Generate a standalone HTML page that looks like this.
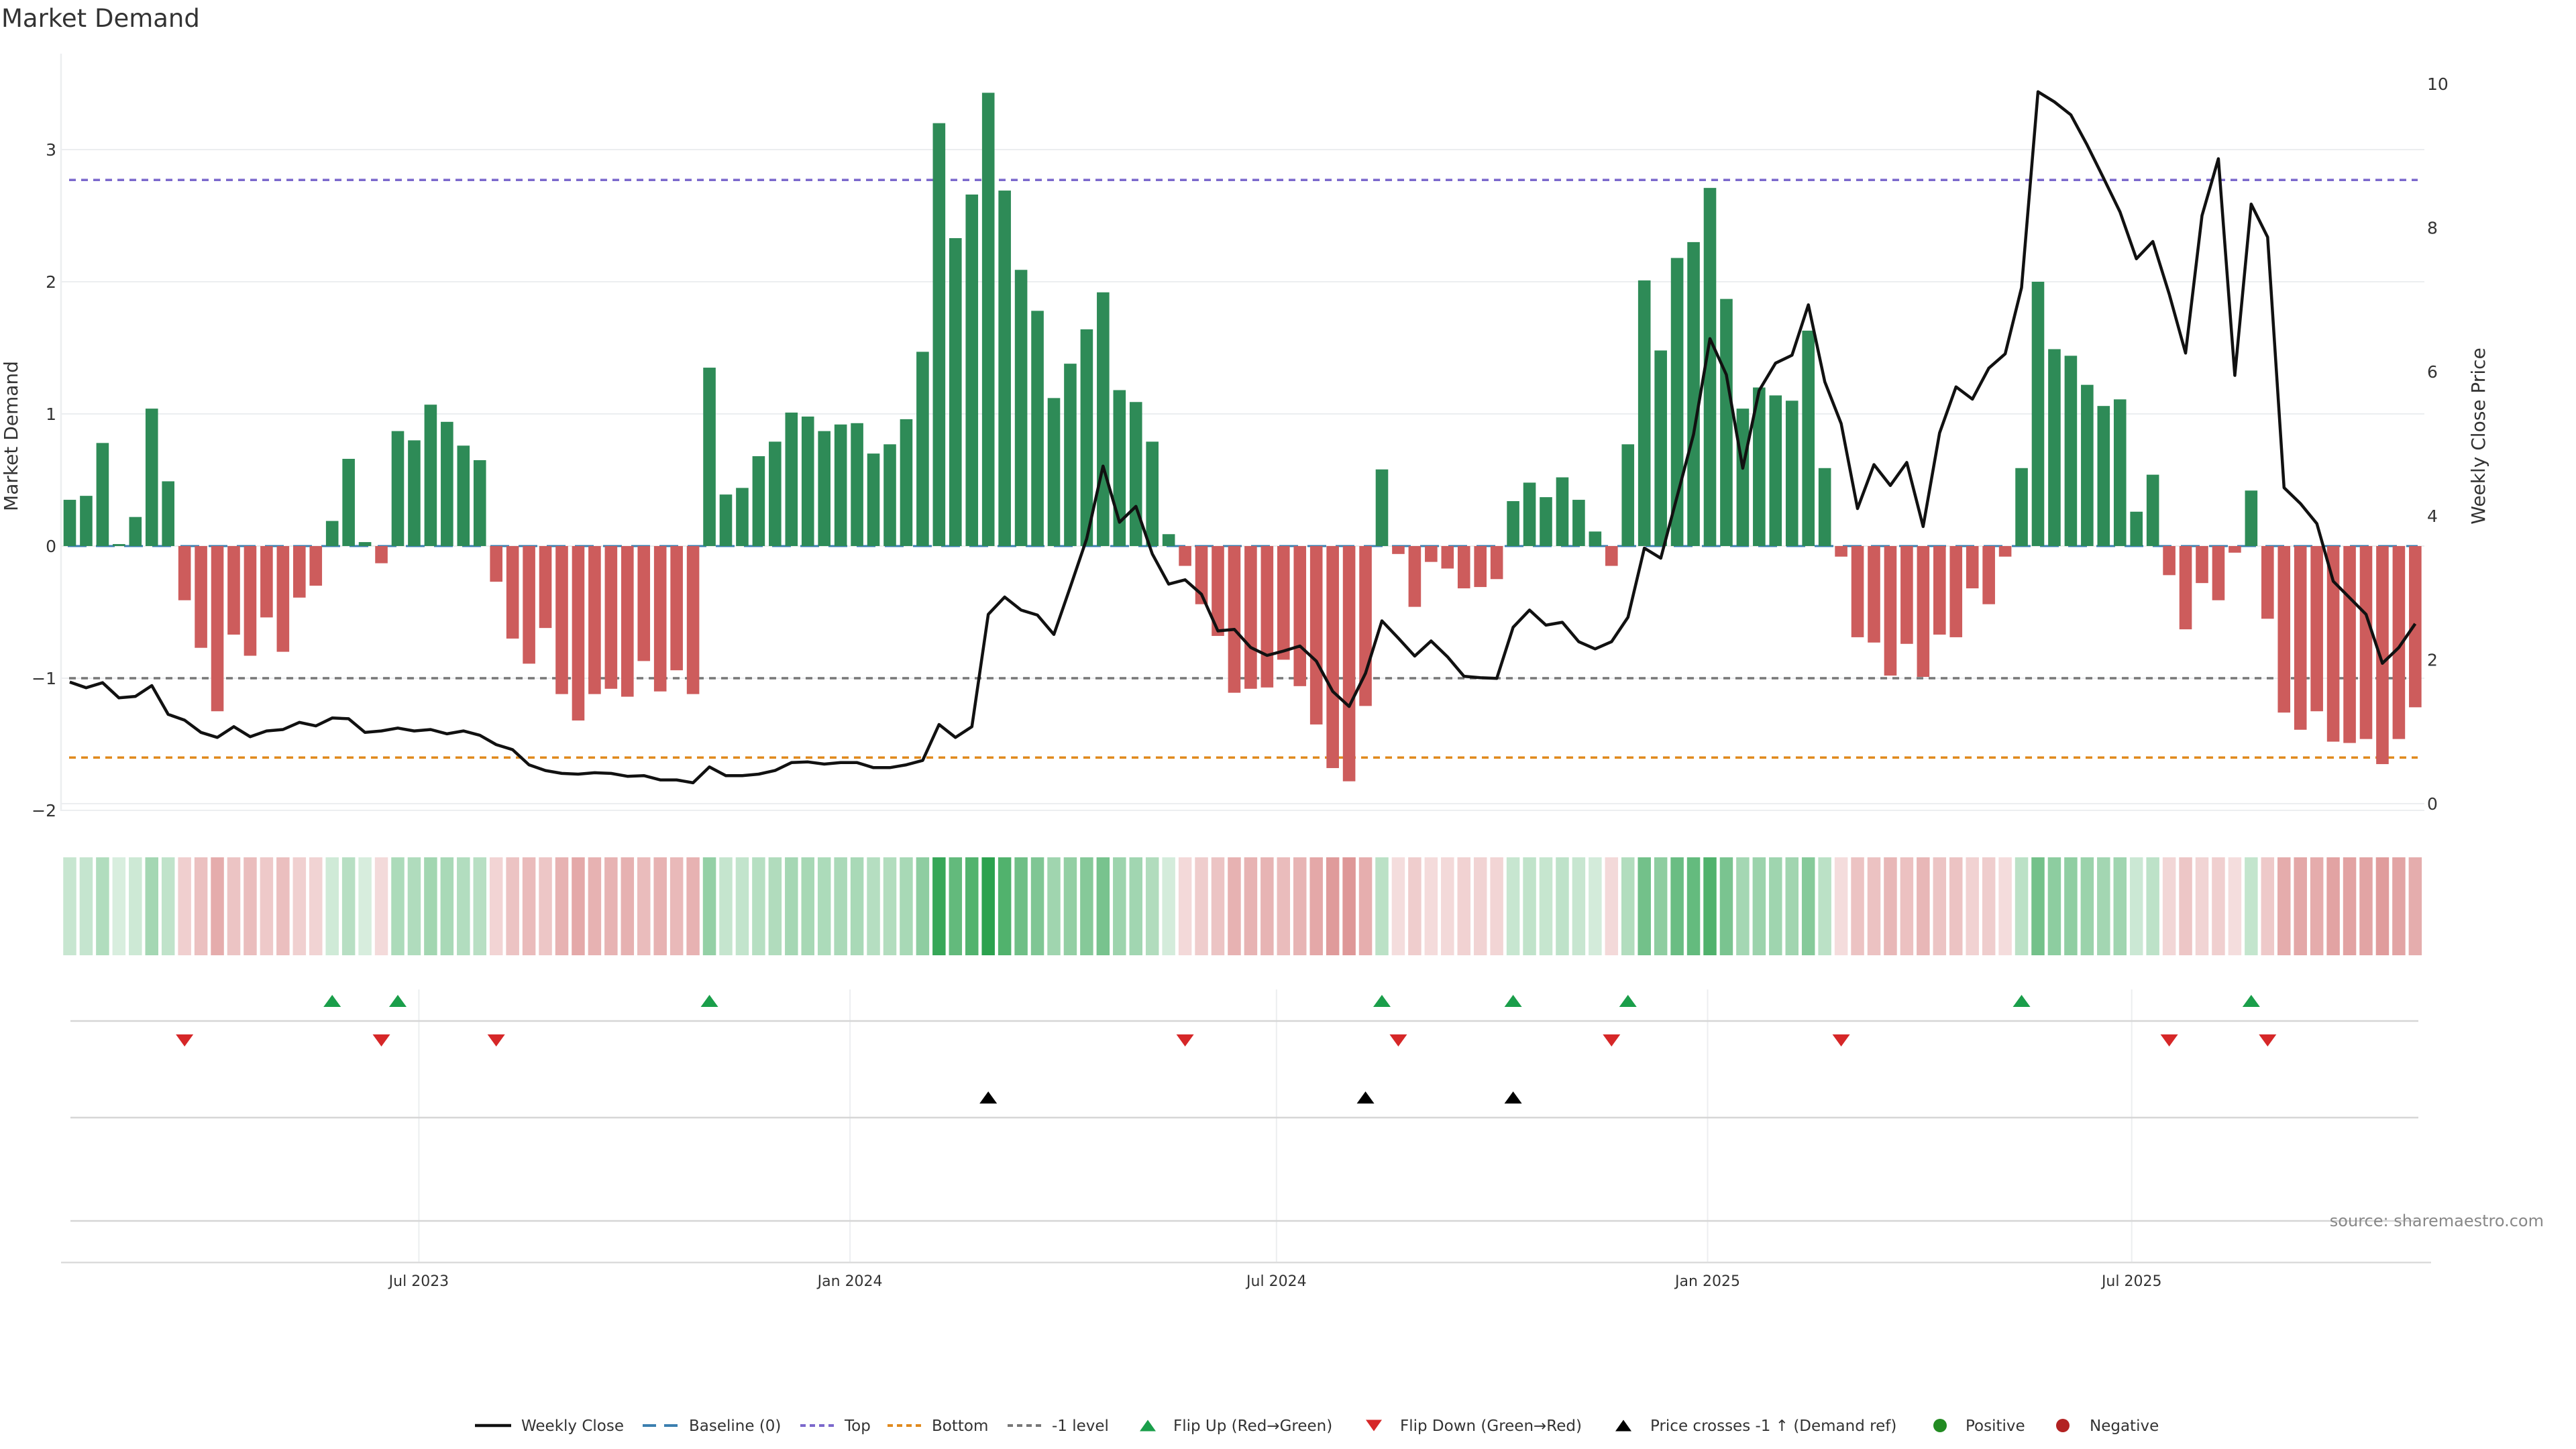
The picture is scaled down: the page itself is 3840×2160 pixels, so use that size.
<!DOCTYPE html>
<html><head><meta charset="utf-8"><title>Market Demand</title>
<style>
html,body{margin:0;padding:0;background:#fff;}
svg{display:block;font-family:"DejaVu Sans","Liberation Sans",sans-serif;}
</style></head>
<body>
<svg id="chart" width="3840" height="2160" viewBox="0 0 3840 2160" xmlns="http://www.w3.org/2000/svg">
<rect width="3840" height="2160" fill="#fff"/>
<text x="2" y="40" font-size="37" fill="#333">Market Demand</text>
<g id="grid"></g>
<g id="refs"></g>
<g id="bars"></g>
<g id="priceg"></g>
<g id="heat"></g>
<g id="lower"></g>
<g id="axes"></g>
<text x="0" y="0" font-size="28" fill="#333" text-anchor="middle" transform="translate(26,650) rotate(-90)">Market Demand</text>
<text x="0" y="0" font-size="28" fill="#333" text-anchor="middle" transform="translate(3704,650) rotate(-90)">Weekly Close Price</text>
<text x="3792" y="1828" font-size="24" fill="#888" text-anchor="end">source: sharemaestro.com</text>
<g id="legend"></g>
</svg>
<script>
const demand = [0.35,0.38,0.78,0.015,0.22,1.04,0.49,-0.41,-0.77,-1.25,
-0.67,-0.83,-0.54,-0.80,-0.39,-0.30,0.19,0.66,0.03,-0.13,
0.87,0.80,1.07,0.94,0.76,0.65,-0.27,-0.70,-0.89,-0.62,
-1.12,-1.32,-1.12,-1.08,-1.14,-0.87,-1.10,-0.94,-1.12,1.35,
0.39,0.44,0.68,0.79,1.01,0.98,0.87,0.92,0.93,0.70,
0.77,0.96,1.47,3.20,2.33,2.66,3.43,2.69,2.09,1.78,
1.12,1.38,1.64,1.92,1.18,1.09,0.79,0.09,-0.15,-0.44,
-0.68,-1.11,-1.08,-1.07,-0.86,-1.06,-1.35,-1.68,-1.78,-1.21,
0.58,-0.06,-0.46,-0.12,-0.17,-0.32,-0.31,-0.25,0.34,0.48,
0.37,0.52,0.35,0.11,-0.15,0.77,2.01,1.48,2.18,2.30,
2.71,1.87,1.04,1.20,1.14,1.10,1.63,0.59,-0.08,-0.69,
-0.73,-0.98,-0.74,-0.99,-0.67,-0.69,-0.32,-0.44,-0.08,0.59,
2.00,1.49,1.44,1.22,1.06,1.11,0.26,0.54,-0.22,-0.63,
-0.28,-0.41,-0.05,0.42,-0.55,-1.26,-1.39,-1.25,-1.48,-1.49,
-1.46,-1.65,-1.46,-1.22];
const price = [1.69,1.61,1.68,1.47,1.49,1.64,1.24,1.16,0.99,0.92,1.07,0.93,1.01,1.03,1.13,1.08,1.19,1.18,0.99,1.01,1.05,1.01,1.03,0.97,1.01,0.95,0.82,0.75,0.54,0.46,0.42,0.41,0.43,0.42,0.38,0.39,0.33,
0.33,0.29,0.51,0.39,0.39,0.41,0.46,0.57,0.58,0.55,0.57,0.57,0.50,0.50,0.54,0.60,1.10,0.92,1.07,2.63,2.87,2.69,2.62,2.35,3.01,3.68,4.69,3.91,4.13,3.47,3.05,3.11,2.91,2.40,2.42,2.17,
2.06,2.12,2.19,1.98,1.56,1.35,1.81,2.54,2.30,2.05,2.26,2.04,1.77,1.75,1.74,2.45,2.69,2.48,2.52,2.25,2.15,2.25,2.59,3.55,3.41,4.27,5.13,6.46,5.96,4.66,5.74,6.12,6.23,6.93,5.86,5.28,
4.10,4.71,4.42,4.74,3.85,5.15,5.79,5.62,6.05,6.25,7.17,9.89,9.75,9.57,9.15,8.69,8.22,7.57,7.81,7.08,6.26,8.17,8.96,5.95,8.33,7.87,4.39,4.17,3.89,3.09,2.86,2.63,1.95,2.17,2.50];
const startDate = "2023-02-02";
const leftTicks = [3,2,1,0,-1,-2];
const rightTicks = [0,2,4,6,8,10];
const xTickDates = ["2023-07-01","2024-01-01","2024-07-01","2025-01-01","2025-07-01"];
const xTickLabels = ["Jul 2023","Jan 2024","Jul 2024","Jan 2025","Jul 2025"];
const topLevel = 2.77;
const bottomLevel = -1.6;
const minusOneLevel = -1;

const NS="http://www.w3.org/2000/svg";
function mk(tag, attrs, parent){const e=document.createElementNS(NS,tag);for(const k in attrs)e.setAttribute(k,attrs[k]);parent.appendChild(e);return e;}
const X0=104, STEP=24.45, BW=18.6, PL=91, PR=3614;
function xI(i){return X0+i*STEP;}
function xDate(s){const d=(new Date(s+"T00:00:00Z")-new Date(startDate+"T00:00:00Z"))/86400000;return X0+d/7*STEP;}
function yD(v){return 814-v*197;}
function yP(p){return 1198-p*107.3;}
function pFromY(y){return (1198-y)/107.3;}

const grid=document.getElementById('grid');
leftTicks.forEach(t=>{
  const l=mk('line',{x1:PL,x2:PR,y1:yD(t),y2:yD(t),stroke:'#eceef0','stroke-width':2},grid);
  
  
});
const pz=mk('line',{x1:PL,x2:PR,y1:yP(0),y2:yP(0),stroke:'#eceef0','stroke-width':2},grid);



const refs=document.getElementById('refs');
const base=mk('line',{x1:PL+10,x2:PR-10,y1:yD(0),y2:yD(0),stroke:'#3b7fb0','stroke-width':3,'stroke-dasharray':'28 14'},refs);


[[topLevel,'#7b68cc','top-level-line'],[bottomLevel,'#e08a1e','bottom-level-line'],[minusOneLevel,'#777','minus-one-level-line']].forEach(r=>{
  const l=mk('line',{x1:PL+12,x2:PR-10,y1:yD(r[0]),y2:yD(r[0]),stroke:r[1],'stroke-width':3.5,'stroke-dasharray':'10 8'},refs);
  
  
});

const bars=document.getElementById('bars');
demand.forEach((v,i)=>{
  const y=Math.min(yD(0),yD(v)), h=Math.abs(yD(v)-yD(0));
  const r=mk('rect',{x:xI(i)-BW/2,y:y,width:BW,height:Math.max(h,1),fill:v>=0?'#2e8b57':'#cd5c5c'},bars);
  
  
});

const pg=document.getElementById('priceg');
const pts=price.map((p,i)=>xI(i).toFixed(1)+','+yP(p).toFixed(1)).join(' ');
const pl=mk('polyline',{points:pts,fill:'none',stroke:'#111','stroke-width':4.5,'stroke-linejoin':'round'},pg);



const heat=document.getElementById('heat');
demand.forEach((v,i)=>{
  const t=Math.min(1,0.18+0.82*Math.abs(v)/3.5);
  const c=v>=0?[40,160,75]:[200,80,80];
  const col='rgb('+c.map(k=>Math.round(255-(255-k)*t)).join(',')+')';
  const r=mk('rect',{x:xI(i)-9.75,y:1278,width:19.5,height:146,fill:col},heat);
  
  
});

const low=document.getElementById('lower');
xTickDates.forEach((d,k)=>{
  const l=mk('line',{x1:xDate(d),x2:xDate(d),y1:1475,y2:1882,stroke:'#eceef0','stroke-width':2},low);
  
  
});
[1522,1666,1820].forEach((y,k)=>{
  const l=mk('line',{x1:105,x2:3605,y1:y,y2:y,stroke:'#d6d6d6','stroke-width':2.5},low);
  
  
});
function tri(x,y,up,col,name){
  const s=13,h=18;
  const p=up?[[x-s,y+h/2],[x+s,y+h/2],[x,y-h/2]]:[[x-s,y-h/2],[x+s,y-h/2],[x,y+h/2]];
  const e=mk('polygon',{points:p.map(q=>q.join(',')).join(' '),fill:col},low);
  
  
}
const L=pFromY(yD(minusOneLevel));
for(let i=1;i<demand.length;i++){
  if(demand[i-1]<0&&demand[i]>=0) tri(xI(i),1492,true,'#1a9e4a','flip-up-marker');
  if(demand[i-1]>=0&&demand[i]<0) tri(xI(i),1551,false,'#d62728','flip-down-marker');
  if(price[i-1]<L&&price[i]>=L) tri(xI(i),1636,true,'#000','price-cross-marker');
}

const ax=document.getElementById('axes');
const la=mk('line',{x1:PL,x2:PL,y1:80,y2:1209,stroke:'#eceef0','stroke-width':2.5},ax);


const ba=mk('line',{x1:PL,x2:PR+10,y1:1882,y2:1882,stroke:'#dcdcdc','stroke-width':2.5},ax);


leftTicks.forEach(t=>{
  const e=mk('text',{x:84,y:yD(t)+9,'font-size':25,fill:'#333','text-anchor':'end'},ax);
  e.textContent=t<0?'\u2212'+Math.abs(t):String(t);
  
  
});
rightTicks.forEach(t=>{
  const e=mk('text',{x:3618,y:yP(t)+9,'font-size':25,fill:'#333'},ax);
  e.textContent=String(t);
  
  
});
xTickDates.forEach((d,k)=>{
  const e=mk('text',{x:xDate(d),y:1917,'font-size':22,fill:'#333','text-anchor':'middle'},ax);
  e.textContent=xTickLabels[k];
  
  
});

const lg=document.getElementById('legend');
const LY=2125;
function ltext(x,s){const e=mk('text',{x:x,y:LY+8,'font-size':23,fill:'#333'},lg);e.textContent=s;}
function lline(x,col,dash,w){const e=mk('line',{x1:x,x2:x+54,y1:LY,y2:LY,stroke:col,'stroke-width':w,'stroke-dasharray':dash},lg);}
lline(708,'#111','none',4.5); ltext(777,'Weekly Close');
lline(958,'#3b7fb0','20 12',4); ltext(1027,'Baseline (0)');
lline(1193,'#7b68cc','8 6',4); ltext(1259,'Top');
lline(1323,'#e08a1e','8 6',4); ltext(1389,'Bottom');
lline(1502,'#777','8 6',4); ltext(1568,'-1 level');
function ltri(x,up,col){const s=12,h=17;const p=up?[[x-s,LY+h/2],[x+s,LY+h/2],[x,LY-h/2]]:[[x-s,LY-h/2],[x+s,LY-h/2],[x,LY+h/2]];const e=mk('polygon',{points:p.map(q=>q.join(',')).join(' '),fill:col},lg);}
ltri(1711,true,'#1a9e4a'); ltext(1749,'Flip Up (Red\u2192Green)');
ltri(2048,false,'#d62728'); ltext(2087,'Flip Down (Green\u2192Red)');
ltri(2420,true,'#000'); ltext(2460,'Price crosses -1 \u2191 (Demand ref)');
function ldot(x,col){const e=mk('circle',{cx:x,cy:LY,r:10,fill:col},lg);}
ldot(2892,'#228b22'); ltext(2930,'Positive');
ldot(3075,'#b22222'); ltext(3115,'Negative');
</script>
</body></html>
